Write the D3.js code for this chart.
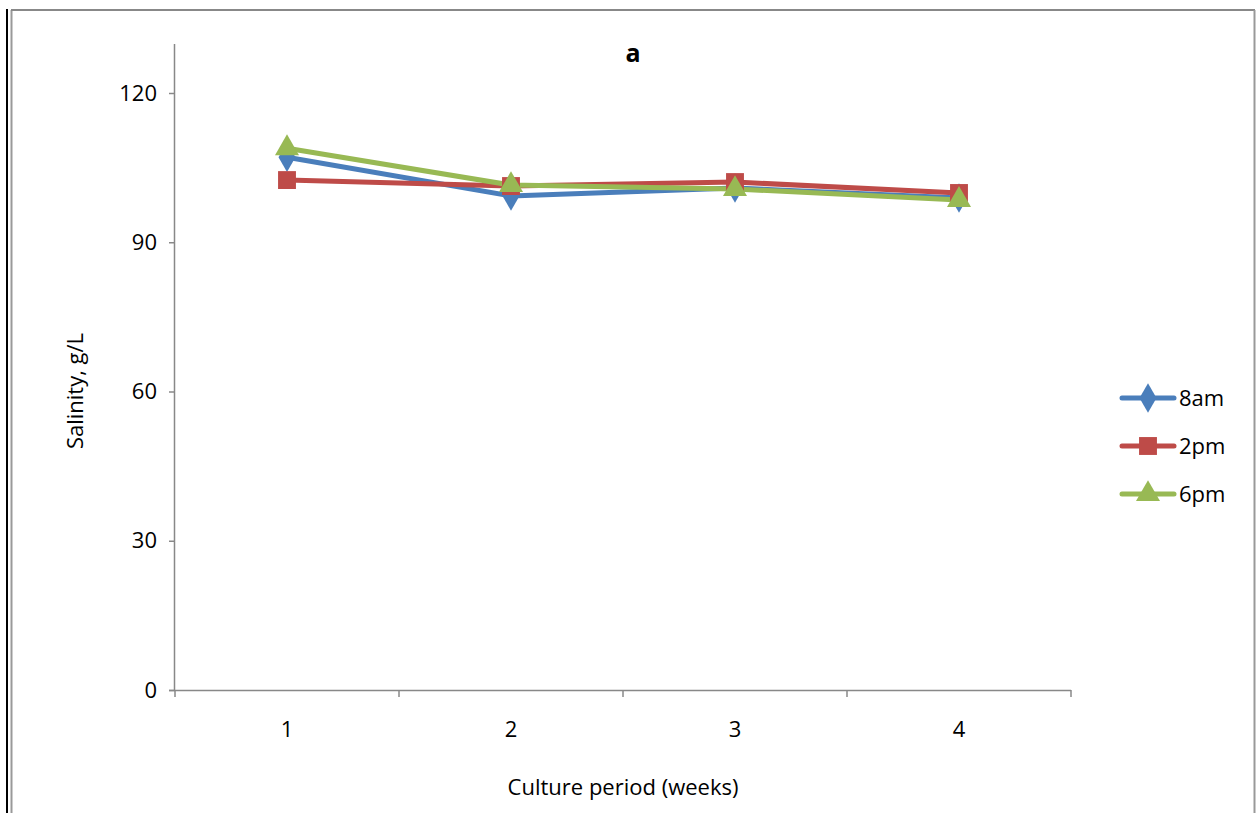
<!DOCTYPE html>
<html>
<head>
<meta charset="utf-8">
<script src="https://cdn.jsdelivr.net/npm/d3@7"></script>
<style>
  body { margin: 0; background: #fff; }
  svg { display: block; font-family: "Open Sans", Calibri, sans-serif; }
</style>
</head>
<body>
<svg id="chart"></svg>
<script>
// data
const weeks = [1, 2, 3, 4];
const series8am = [107.1, 99.3, 100.9, 98.9];
const series2pm = [102.5, 101.3, 102.1, 99.9];
const series6pm = [108.9, 101.5, 100.7, 98.5];
const yTicks = [0, 30, 60, 90, 120];
const seriesNames = ["8am", "2pm", "6pm"];
const seriesColors = ["#4a7ebb", "#be4b48", "#98b954"];
const seriesSymbols = [d3.symbolDiamond, d3.symbolSquare, d3.symbolTriangle];

const width = 1259, height = 813;
const margin = {left: 175, right: 188, top: 93, bottom: 123};
const fs = 22;

const svg = d3.select("#chart").attr("width", width).attr("height", height);

// outer frame
svg.append("line").attr("x1", 7).attr("x2", 7).attr("y1", 9).attr("y2", height)
  .attr("stroke", "#000").attr("stroke-width", 2);
svg.append("line").attr("x1", 11.5).attr("x2", 11.5).attr("y1", 10).attr("y2", height)
  .attr("stroke", "#999").attr("stroke-width", 2);
svg.append("line").attr("x1", 11).attr("x2", 1255).attr("y1", 10).attr("y2", 10)
  .attr("stroke", "#888").attr("stroke-width", 2);
svg.append("line").attr("x1", 1254.5).attr("x2", 1254.5).attr("y1", 10).attr("y2", height)
  .attr("stroke", "#999").attr("stroke-width", 2);

const x = d3.scaleBand().domain(weeks).range([margin.left, width - margin.right]);
const y = d3.scaleLinear().domain([0, 120]).range([height - margin.bottom, margin.top]);

// y axis
const yAxis = svg.append("g")
  .attr("transform", `translate(${margin.left},0)`)
  .call(d3.axisLeft(y).tickValues(yTicks).tickSize(6).tickPadding(12))
  .call(g => g.select(".domain").attr("d", `M-0.5,44V${y(0)}`));
yAxis.selectAll("path, line").attr("stroke", "#888").attr("stroke-width", 1.5);
yAxis.selectAll("text").attr("font-size", fs).attr("fill", "#000")
  .attr("font-family", "Open Sans, sans-serif");

// x axis with ticks at band edges
const xAxis = svg.append("g")
  .attr("transform", `translate(0,${y(0)})`)
  .call(d3.axisBottom(x).tickSize(0).tickPadding(31));
xAxis.select(".domain").attr("d", `M${margin.left - 6},0.5H${width - margin.right}`)
  .attr("stroke", "#888").attr("stroke-width", 1.5);
xAxis.selectAll("text").attr("font-size", fs).attr("fill", "#000")
  .attr("font-family", "Open Sans, sans-serif");
xAxis.selectAll(".edge")
  .data(weeks.map(w => x(w)).concat([x(weeks[weeks.length - 1]) + x.bandwidth()]))
  .join("line")
    .attr("x1", d => d).attr("x2", d => d)
    .attr("y1", 0).attr("y2", 7)
    .attr("stroke", "#888").attr("stroke-width", 1.5);

// lines and markers
const allSeries = [series8am, series2pm, series6pm];
const line = d3.line()
  .x((d, i) => x(weeks[i]) + x.bandwidth() / 2)
  .y(d => y(d));

allSeries.forEach((vals, k) => {
  svg.append("path")
    .datum(vals)
    .attr("fill", "none")
    .attr("stroke", seriesColors[k])
    .attr("stroke-width", 5)
    .attr("stroke-linejoin", "round")
    .attr("stroke-linecap", "round")
    .attr("d", line);
});
const symSize = [250, 320, 250];
allSeries.forEach((vals, k) => {
  svg.append("g").selectAll("path")
    .data(vals)
    .join("path")
      .attr("transform", (d, i) => `translate(${x(weeks[i]) + x.bandwidth() / 2},${y(d)})`)
      .attr("d", d3.symbol(seriesSymbols[k], symSize[k]))
      .attr("fill", seriesColors[k]);
});

// legend
const legend = svg.append("g").selectAll("g")
  .data(seriesNames)
  .join("g")
    .attr("transform", (d, i) => `translate(1148,${398 + i * 48})`);
legend.append("line")
  .attr("x1", -26).attr("x2", 26)
  .attr("stroke", (d, i) => seriesColors[i])
  .attr("stroke-width", 5).attr("stroke-linecap", "round");
legend.append("path")
  .attr("d", (d, i) => d3.symbol(seriesSymbols[i], symSize[i])())
  .attr("fill", (d, i) => seriesColors[i]);
legend.append("text")
  .attr("x", 31).attr("dy", "0.35em")
  .attr("font-size", fs)
  .text(d => d);

// titles
svg.append("text")
  .attr("x", 633).attr("y", 62)
  .attr("text-anchor", "middle")
  .attr("font-size", 25).attr("font-weight", "bold")
  .text("a");
svg.append("text")
  .attr("x", 623).attr("y", 795)
  .attr("text-anchor", "middle")
  .attr("font-size", fs)
  .text("Culture period (weeks)");
svg.append("text")
  .attr("transform", "translate(83,391) rotate(-90)")
  .attr("text-anchor", "middle")
  .attr("font-size", fs)
  .text("Salinity, g/L");
</script>
</body>
</html>
